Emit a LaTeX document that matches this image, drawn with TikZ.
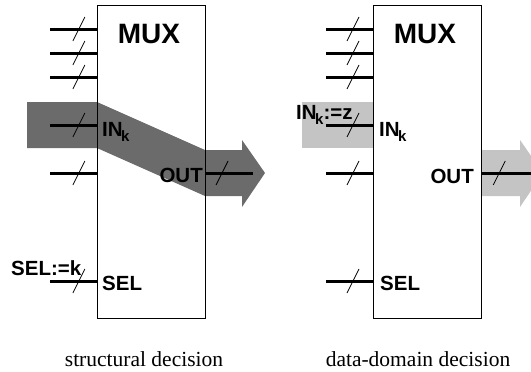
\documentclass[tikz,border=0pt]{standalone}
\usepackage{fontspec}
\setmainfont{Liberation Serif}
\setsansfont{Liberation Sans}
\usetikzlibrary{positioning,decorations.markings}

\newcommand{\subk}{\kern-1.5pt\raisebox{-0.5ex}{\fontsize{15}{15}\selectfont k}}
\tikzset{
            muxbox/.style={draw, line width=0.8pt, minimum width=108pt, minimum height=313pt, inner sep=0pt},
            bus/.style={line width=3pt, postaction={decorate, decoration={markings,
                mark=at position #1 with {\draw[line width=0.8pt] (-6pt,-12pt) -- (6pt,12pt);}}}},
            pinlabel/.style={font=\sffamily\bfseries\fontsize{20.5}{20.5}\selectfont, inner sep=0pt},
            muxtitle/.style={font=\sffamily\bfseries\fontsize{28}{28}\selectfont, inner sep=0pt},
            decision/.style={font=\fontsize{21.5}{21.5}\selectfont, inner sep=0pt},
            flowdark/.style={fill=black!58},
            flowlight/.style={fill=black!23}
        }

\begin{document}
\begin{tikzpicture}[x=1pt, y=-1pt]
                \useasboundingbox (0,0) rectangle (531,372);
                \clip (0,0) rectangle (531,372);

                % structural decision: the chosen input flows through
                \fill[flowdark] (27,102) -- (97,102) -- (205,150) -- (242,150) -- (242,140)
                    -- (265,173) -- (242,207) -- (242,196) -- (205,196) -- (97,148) -- (27,148) -- cycle;
                \node[muxbox] (muxL) at (151,161.5) {};
                \node[muxtitle, anchor=base] (titleL) at (149,43) {MUX};
                \foreach \y [count=\i] in {29,53,77,125,173,281}
                    \coordinate (inL\i) at (50,\y);
                \foreach \i in {1,...,6}
                    \draw[bus=0.62] (inL\i) -- (inL\i -| muxL.west);
                \coordinate (outL) at (253,173);
                \draw[bus=0.35] (outL -| muxL.east) -- (outL);
                \node[pinlabel, anchor=base west] (inkL) at (102,136) {IN\subk};
                \node[pinlabel, anchor=base east] (outlabL) at (203,182) {OUT};
                \node[pinlabel, anchor=base west] (selL) at (102,290) {SEL};
                \node[pinlabel, anchor=base west] (setselL) at (11,275) {SEL:=k};
                \node[decision, anchor=base] (capL) at (144,366) {structural decision};

                % data-domain decision: the input value itself is fixed
                \fill[flowlight] (302,102) rectangle (373,148);
                \fill[flowlight] (481,150) -- (520,150) -- (520,140) -- (543,173)
                    -- (520,207) -- (520,196) -- (481,196) -- cycle;
                \node[muxbox] (muxR) at (427,161.5) {};
                \node[muxtitle, anchor=base] (titleR) at (425,43) {MUX};
                \foreach \y [count=\i] in {29,53,77,125,173,281}
                    \coordinate (inR\i) at (326,\y);
                \foreach \i in {1,...,6}
                    \draw[bus=0.58] (inR\i) -- (inR\i -| muxR.west);
                \coordinate (outR) at (531,173);
                \draw[bus=0.36] (outR -| muxR.east) -- (outR);
                \node[pinlabel, anchor=base west] (setinR) at (296,119) {IN\subk:=z};
                \node[pinlabel, anchor=base west] (inkR) at (379,136) {IN\subk};
                \node[pinlabel, anchor=base east] (outlabR) at (474,183) {OUT};
                \node[pinlabel, anchor=base west] (selR) at (380,290) {SEL};
                \node[decision, anchor=base] (capR) at (418,366) {data-domain decision};
            \end{tikzpicture}
\end{document}
